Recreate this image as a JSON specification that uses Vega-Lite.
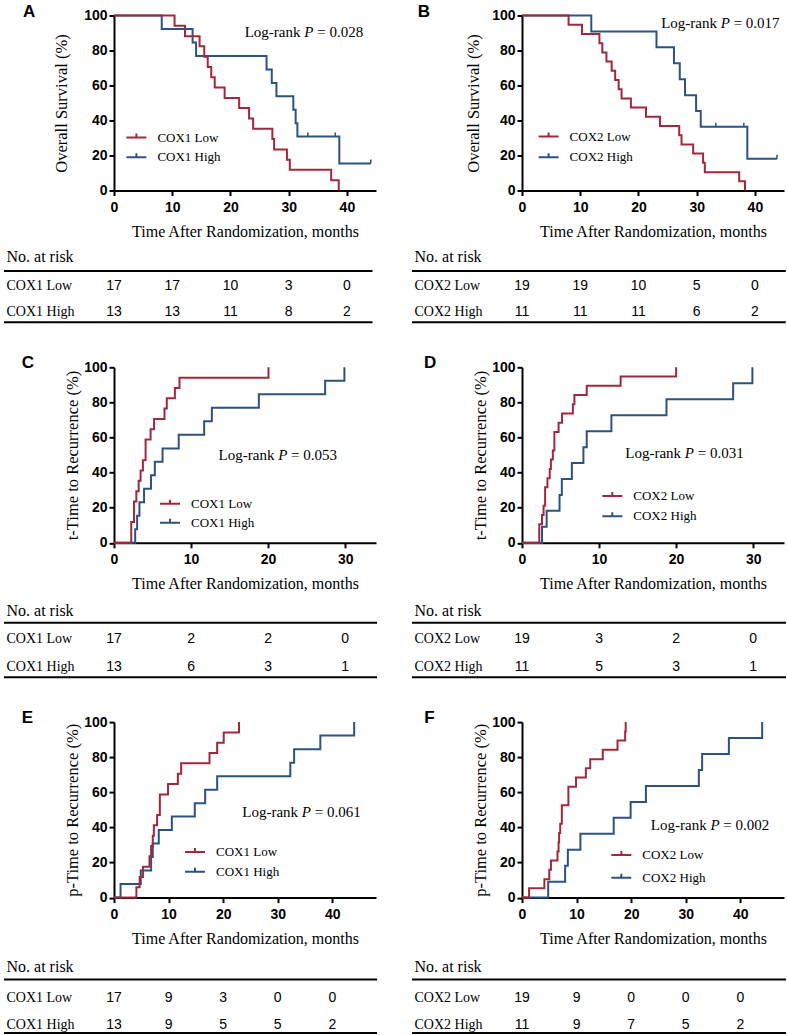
{
"$schema": "https://vega.github.io/schema/vega-lite/v6.json",
"background": "white",
"padding": {"left": 2, "top": 2.5, "right": 0, "bottom": 0},
"columns": 2,
"bounds": "flush",
"align": "each",
"spacing": {"row": 44.4, "column": 146},
"resolve": {"scale": {"x": "independent", "y": "independent", "color": "independent"}, "axis": {"x": "independent", "y": "independent"}, "legend": {"color": "independent"}},
"config": {
  "view": {"stroke": null},
  "axis": {"grid": false, "domainColor": "black", "domainWidth": 2, "tickColor": "black", "tickWidth": 2, "tickSize": 5, "labelFont": "Liberation Sans", "labelFontWeight": "bold", "labelFontSize": 14, "labelColor": "black", "labelFlush": false, "labelOverlap": false, "titleFont": "Liberation Serif", "titleFontWeight": "normal", "titleFontSize": 16, "titleColor": "black"},
  "axisX": {"labelPadding": 5, "titlePadding": 9},
  "axisY": {"labelPadding": 2, "titleFontSize": 16.5},
  "title": {"anchor": "start", "frame": "group", "offset": -12, "baseline": "alphabetic", "fontSize": 17, "font": "Liberation Sans", "fontWeight": "bold", "color": "black"},
  "text": {"font": "Liberation Serif", "fontSize": 15, "baseline": "middle", "color": "black"},
  "legend": {"orient": "none", "symbolType": "M-1,0H1M0,0V-0.4", "symbolSize": 400, "symbolStrokeWidth": 2, "labelFont": "Liberation Serif", "labelFontSize": 13, "labelColor": "black", "labelOffset": 10, "padding": 0}
},
"datasets": {
  "kmA": [
    {"group": "COX1 High", "t": 0, "s": 100}, {"group": "COX1 High", "t": 8.2, "s": 92.3}, {"group": "COX1 High", "t": 13.5, "s": 84.6}, {"group": "COX1 High", "t": 14.1, "s": 76.9}, {"group": "COX1 High", "t": 26.2, "s": 69.2}, {"group": "COX1 High", "t": 27.1, "s": 61.5}, {"group": "COX1 High", "t": 27.9, "s": 53.8}, {"group": "COX1 High", "t": 30.8, "s": 46.2}, {"group": "COX1 High", "t": 31.2, "s": 38.5}, {"group": "COX1 High", "t": 31.5, "s": 30.8}, {"group": "COX1 High", "t": 38.7, "s": 15.4}, {"group": "COX1 High", "t": 44.1, "s": 15.4},
    {"group": "COX1 Low", "t": 0, "s": 100}, {"group": "COX1 Low", "t": 10.4, "s": 94.1}, {"group": "COX1 Low", "t": 12.2, "s": 88.2}, {"group": "COX1 Low", "t": 14.7, "s": 82.4}, {"group": "COX1 Low", "t": 15.5, "s": 76.5}, {"group": "COX1 Low", "t": 16.1, "s": 70.6}, {"group": "COX1 Low", "t": 16.7, "s": 64.7}, {"group": "COX1 Low", "t": 17.3, "s": 58.8}, {"group": "COX1 Low", "t": 19.0, "s": 52.9}, {"group": "COX1 Low", "t": 21.5, "s": 47.1}, {"group": "COX1 Low", "t": 23.2, "s": 41.2}, {"group": "COX1 Low", "t": 23.9, "s": 35.3}, {"group": "COX1 Low", "t": 27.2, "s": 29.4}, {"group": "COX1 Low", "t": 27.5, "s": 23.5}, {"group": "COX1 Low", "t": 29.7, "s": 17.6}, {"group": "COX1 Low", "t": 30.2, "s": 11.8}, {"group": "COX1 Low", "t": 37.3, "s": 5.9}, {"group": "COX1 Low", "t": 38.6, "s": 0}
  ],
  "censA": [{"t": 33.3, "s": 30.8}, {"t": 38.0, "s": 30.8}, {"t": 44.1, "s": 15.4}],
  "kmB": [
    {"group": "COX2 High", "t": 0, "s": 100}, {"group": "COX2 High", "t": 11.9, "s": 90.9}, {"group": "COX2 High", "t": 23.1, "s": 81.8}, {"group": "COX2 High", "t": 26.1, "s": 72.7}, {"group": "COX2 High", "t": 27.1, "s": 63.6}, {"group": "COX2 High", "t": 28.0, "s": 54.5}, {"group": "COX2 High", "t": 29.9, "s": 45.5}, {"group": "COX2 High", "t": 30.7, "s": 36.4}, {"group": "COX2 High", "t": 38.7, "s": 18.2}, {"group": "COX2 High", "t": 43.8, "s": 18.2},
    {"group": "COX2 Low", "t": 0, "s": 100}, {"group": "COX2 Low", "t": 8.0, "s": 94.7}, {"group": "COX2 Low", "t": 10.3, "s": 89.5}, {"group": "COX2 Low", "t": 13.3, "s": 84.2}, {"group": "COX2 Low", "t": 13.8, "s": 78.9}, {"group": "COX2 Low", "t": 14.5, "s": 73.7}, {"group": "COX2 Low", "t": 15.4, "s": 68.4}, {"group": "COX2 Low", "t": 16.0, "s": 63.2}, {"group": "COX2 Low", "t": 16.6, "s": 57.9}, {"group": "COX2 Low", "t": 17.1, "s": 52.6}, {"group": "COX2 Low", "t": 18.7, "s": 47.4}, {"group": "COX2 Low", "t": 21.3, "s": 42.1}, {"group": "COX2 Low", "t": 23.7, "s": 36.8}, {"group": "COX2 Low", "t": 27.0, "s": 31.6}, {"group": "COX2 Low", "t": 27.4, "s": 26.3}, {"group": "COX2 Low", "t": 29.4, "s": 21.1}, {"group": "COX2 Low", "t": 31.1, "s": 15.8}, {"group": "COX2 Low", "t": 31.4, "s": 10.5}, {"group": "COX2 Low", "t": 37.3, "s": 5.3}, {"group": "COX2 Low", "t": 38.3, "s": 0}
  ],
  "censB": [{"t": 33.3, "s": 36.4}, {"t": 38.1, "s": 36.4}, {"t": 43.8, "s": 18.2}],
  "kmC": [
    {"group": "COX1 High", "t": 0, "s": 0}, {"group": "COX1 High", "t": 2.75, "s": 7.7}, {"group": "COX1 High", "t": 3.0, "s": 15.4}, {"group": "COX1 High", "t": 3.3, "s": 23.1}, {"group": "COX1 High", "t": 3.9, "s": 30.8}, {"group": "COX1 High", "t": 4.8, "s": 38.5}, {"group": "COX1 High", "t": 5.3, "s": 46.2}, {"group": "COX1 High", "t": 6.3, "s": 53.8}, {"group": "COX1 High", "t": 8.4, "s": 61.5}, {"group": "COX1 High", "t": 11.7, "s": 69.2}, {"group": "COX1 High", "t": 12.7, "s": 76.9}, {"group": "COX1 High", "t": 18.8, "s": 84.6}, {"group": "COX1 High", "t": 27.4, "s": 92.3}, {"group": "COX1 High", "t": 29.9, "s": 100},
    {"group": "COX1 Low", "t": 0, "s": 0}, {"group": "COX1 Low", "t": 2.24, "s": 11.8}, {"group": "COX1 Low", "t": 2.6, "s": 23.5}, {"group": "COX1 Low", "t": 2.9, "s": 29.4}, {"group": "COX1 Low", "t": 3.2, "s": 35.3}, {"group": "COX1 Low", "t": 3.45, "s": 41.2}, {"group": "COX1 Low", "t": 3.75, "s": 47.1}, {"group": "COX1 Low", "t": 4.1, "s": 58.8}, {"group": "COX1 Low", "t": 4.75, "s": 64.7}, {"group": "COX1 Low", "t": 5.2, "s": 70.6}, {"group": "COX1 Low", "t": 6.55, "s": 76.5}, {"group": "COX1 Low", "t": 6.85, "s": 82.4}, {"group": "COX1 Low", "t": 7.9, "s": 88.2}, {"group": "COX1 Low", "t": 8.5, "s": 94.1}, {"group": "COX1 Low", "t": 20.05, "s": 100}
  ],
  "kmD": [
    {"group": "COX2 High", "t": 0, "s": 0}, {"group": "COX2 High", "t": 2.6, "s": 9.1}, {"group": "COX2 High", "t": 3.2, "s": 18.2}, {"group": "COX2 High", "t": 4.87, "s": 27.3}, {"group": "COX2 High", "t": 5.17, "s": 36.4}, {"group": "COX2 High", "t": 6.47, "s": 45.5}, {"group": "COX2 High", "t": 7.97, "s": 54.5}, {"group": "COX2 High", "t": 8.4, "s": 63.6}, {"group": "COX2 High", "t": 11.6, "s": 72.7}, {"group": "COX2 High", "t": 18.75, "s": 81.8}, {"group": "COX2 High", "t": 27.4, "s": 90.9}, {"group": "COX2 High", "t": 29.9, "s": 100},
    {"group": "COX2 Low", "t": 0, "s": 0}, {"group": "COX2 Low", "t": 2.24, "s": 10.5}, {"group": "COX2 Low", "t": 2.6, "s": 15.8}, {"group": "COX2 Low", "t": 2.8, "s": 21.1}, {"group": "COX2 Low", "t": 3.0, "s": 31.6}, {"group": "COX2 Low", "t": 3.3, "s": 36.8}, {"group": "COX2 Low", "t": 3.6, "s": 42.1}, {"group": "COX2 Low", "t": 3.75, "s": 47.4}, {"group": "COX2 Low", "t": 4.0, "s": 52.6}, {"group": "COX2 Low", "t": 4.2, "s": 63.2}, {"group": "COX2 Low", "t": 4.75, "s": 68.4}, {"group": "COX2 Low", "t": 5.2, "s": 73.7}, {"group": "COX2 Low", "t": 6.6, "s": 78.9}, {"group": "COX2 Low", "t": 6.8, "s": 84.2}, {"group": "COX2 Low", "t": 8.4, "s": 89.5}, {"group": "COX2 Low", "t": 12.8, "s": 94.7}, {"group": "COX2 Low", "t": 20.0, "s": 100}
  ],
  "kmE": [
    {"group": "COX1 High", "t": 0, "s": 0}, {"group": "COX1 High", "t": 1.2, "s": 7.7}, {"group": "COX1 High", "t": 4.9, "s": 15.4}, {"group": "COX1 High", "t": 6.8, "s": 23.1}, {"group": "COX1 High", "t": 7.1, "s": 30.8}, {"group": "COX1 High", "t": 8.2, "s": 38.5}, {"group": "COX1 High", "t": 10.6, "s": 46.2}, {"group": "COX1 High", "t": 14.8, "s": 53.8}, {"group": "COX1 High", "t": 16.7, "s": 61.5}, {"group": "COX1 High", "t": 18.9, "s": 69.2}, {"group": "COX1 High", "t": 32.3, "s": 76.9}, {"group": "COX1 High", "t": 33.0, "s": 84.6}, {"group": "COX1 High", "t": 37.8, "s": 92.3}, {"group": "COX1 High", "t": 44.0, "s": 100},
    {"group": "COX1 Low", "t": 0, "s": 0}, {"group": "COX1 Low", "t": 4.1, "s": 5.9}, {"group": "COX1 Low", "t": 4.7, "s": 11.8}, {"group": "COX1 Low", "t": 5.3, "s": 17.6}, {"group": "COX1 Low", "t": 6.5, "s": 23.5}, {"group": "COX1 Low", "t": 6.8, "s": 29.4}, {"group": "COX1 Low", "t": 7.1, "s": 35.3}, {"group": "COX1 Low", "t": 7.3, "s": 41.2}, {"group": "COX1 Low", "t": 7.9, "s": 47.1}, {"group": "COX1 Low", "t": 8.4, "s": 58.8}, {"group": "COX1 Low", "t": 9.9, "s": 64.7}, {"group": "COX1 Low", "t": 11.7, "s": 70.6}, {"group": "COX1 Low", "t": 12.3, "s": 76.5}, {"group": "COX1 Low", "t": 17.5, "s": 82.4}, {"group": "COX1 Low", "t": 18.9, "s": 88.2}, {"group": "COX1 Low", "t": 20.1, "s": 94.1}, {"group": "COX1 Low", "t": 22.9, "s": 100}
  ],
  "kmF": [
    {"group": "COX2 High", "t": 0, "s": 0}, {"group": "COX2 High", "t": 4.8, "s": 9.1}, {"group": "COX2 High", "t": 7.9, "s": 18.2}, {"group": "COX2 High", "t": 8.4, "s": 27.3}, {"group": "COX2 High", "t": 10.7, "s": 36.4}, {"group": "COX2 High", "t": 16.8, "s": 45.5}, {"group": "COX2 High", "t": 19.9, "s": 54.5}, {"group": "COX2 High", "t": 22.7, "s": 63.6}, {"group": "COX2 High", "t": 32.4, "s": 72.7}, {"group": "COX2 High", "t": 33.0, "s": 81.8}, {"group": "COX2 High", "t": 37.9, "s": 90.9}, {"group": "COX2 High", "t": 44.0, "s": 100},
    {"group": "COX2 Low", "t": 0, "s": 0}, {"group": "COX2 Low", "t": 1.3, "s": 5.3}, {"group": "COX2 Low", "t": 4.1, "s": 10.5}, {"group": "COX2 Low", "t": 5.0, "s": 15.8}, {"group": "COX2 Low", "t": 5.3, "s": 21.1}, {"group": "COX2 Low", "t": 6.5, "s": 26.3}, {"group": "COX2 Low", "t": 6.7, "s": 31.6}, {"group": "COX2 Low", "t": 6.8, "s": 36.8}, {"group": "COX2 Low", "t": 7.0, "s": 42.1}, {"group": "COX2 Low", "t": 7.3, "s": 52.6}, {"group": "COX2 Low", "t": 8.5, "s": 63.2}, {"group": "COX2 Low", "t": 9.9, "s": 68.4}, {"group": "COX2 Low", "t": 11.7, "s": 73.7}, {"group": "COX2 Low", "t": 12.5, "s": 78.9}, {"group": "COX2 Low", "t": 14.8, "s": 84.2}, {"group": "COX2 Low", "t": 17.5, "s": 89.5}, {"group": "COX2 Low", "t": 18.9, "s": 94.7}, {"group": "COX2 Low", "t": 19.0, "s": 100}
  ],
  "riskA": [
    {"row": "COX1 Low", "t": 0, "n": 17}, {"row": "COX1 Low", "t": 10, "n": 17}, {"row": "COX1 Low", "t": 20, "n": 10}, {"row": "COX1 Low", "t": 30, "n": 3}, {"row": "COX1 Low", "t": 40, "n": 0},
    {"row": "COX1 High", "t": 0, "n": 13}, {"row": "COX1 High", "t": 10, "n": 13}, {"row": "COX1 High", "t": 20, "n": 11}, {"row": "COX1 High", "t": 30, "n": 8}, {"row": "COX1 High", "t": 40, "n": 2}
  ],
  "riskB": [
    {"row": "COX2 Low", "t": 0, "n": 19}, {"row": "COX2 Low", "t": 10, "n": 19}, {"row": "COX2 Low", "t": 20, "n": 10}, {"row": "COX2 Low", "t": 30, "n": 5}, {"row": "COX2 Low", "t": 40, "n": 0},
    {"row": "COX2 High", "t": 0, "n": 11}, {"row": "COX2 High", "t": 10, "n": 11}, {"row": "COX2 High", "t": 20, "n": 11}, {"row": "COX2 High", "t": 30, "n": 6}, {"row": "COX2 High", "t": 40, "n": 2}
  ],
  "riskC": [
    {"row": "COX1 Low", "t": 0, "n": 17}, {"row": "COX1 Low", "t": 10, "n": 2}, {"row": "COX1 Low", "t": 20, "n": 2}, {"row": "COX1 Low", "t": 30, "n": 0},
    {"row": "COX1 High", "t": 0, "n": 13}, {"row": "COX1 High", "t": 10, "n": 6}, {"row": "COX1 High", "t": 20, "n": 3}, {"row": "COX1 High", "t": 30, "n": 1}
  ],
  "riskD": [
    {"row": "COX2 Low", "t": 0, "n": 19}, {"row": "COX2 Low", "t": 10, "n": 3}, {"row": "COX2 Low", "t": 20, "n": 2}, {"row": "COX2 Low", "t": 30, "n": 0},
    {"row": "COX2 High", "t": 0, "n": 11}, {"row": "COX2 High", "t": 10, "n": 5}, {"row": "COX2 High", "t": 20, "n": 3}, {"row": "COX2 High", "t": 30, "n": 1}
  ],
  "riskE": [
    {"row": "COX1 Low", "t": 0, "n": 17}, {"row": "COX1 Low", "t": 10, "n": 9}, {"row": "COX1 Low", "t": 20, "n": 3}, {"row": "COX1 Low", "t": 30, "n": 0}, {"row": "COX1 Low", "t": 40, "n": 0},
    {"row": "COX1 High", "t": 0, "n": 13}, {"row": "COX1 High", "t": 10, "n": 9}, {"row": "COX1 High", "t": 20, "n": 5}, {"row": "COX1 High", "t": 30, "n": 5}, {"row": "COX1 High", "t": 40, "n": 2}
  ],
  "riskF": [
    {"row": "COX2 Low", "t": 0, "n": 19}, {"row": "COX2 Low", "t": 10, "n": 9}, {"row": "COX2 Low", "t": 20, "n": 0}, {"row": "COX2 Low", "t": 30, "n": 0}, {"row": "COX2 Low", "t": 40, "n": 0},
    {"row": "COX2 High", "t": 0, "n": 11}, {"row": "COX2 High", "t": 10, "n": 9}, {"row": "COX2 High", "t": 20, "n": 7}, {"row": "COX2 High", "t": 30, "n": 5}, {"row": "COX2 High", "t": 40, "n": 2}
  ]
},
"concat": [
  {
    "width": 262, "height": 175,
    "title": {"text": "A", "dx": -91},
    "layer": [
      {"data": {"name": "kmA"}, "mark": {"type": "line", "interpolate": "step-after", "strokeWidth": 2},
       "encoding": {
         "x": {"field": "t", "type": "quantitative", "scale": {"domain": [0, 45], "nice": false}, "axis": {"title": "Time After Randomization, months", "values": [0, 10, 20, 30, 40], "tickCount": 10}},
         "y": {"field": "s", "type": "quantitative", "scale": {"domain": [0, 100], "nice": false}, "axis": {"title": "Overall Survival (%)", "values": [0, 20, 40, 60, 80, 100], "tickCount": 10, "titlePadding": 14}},
         "color": {"field": "group", "type": "nominal", "scale": {"domain": ["COX1 Low", "COX1 High"], "range": ["#A0283C", "#2C5282"]}, "legend": {"title": null, "legendX": 11.4, "legendY": 111, "rowPadding": 1.7}}
       }},
      {"data": {"name": "censA"}, "mark": {"type": "point", "shape": "M0,0V-1", "size": 64, "filled": false, "strokeWidth": 1.5, "color": "#2C5282", "opacity": 1},
       "encoding": {"x": {"field": "t", "type": "quantitative"}, "y": {"field": "s", "type": "quantitative"}}},
      {"data": {"values": [{"txt": "Log-rank"}]}, "mark": {"type": "text", "align": "left"}, "encoding": {"x": {"datum": 22.45}, "y": {"datum": 90.5}, "text": {"field": "txt"}}},
      {"data": {"values": [{"txt": "P"}]}, "mark": {"type": "text", "align": "left", "dx": 59.6, "fontStyle": "italic"}, "encoding": {"x": {"datum": 22.45}, "y": {"datum": 90.5}, "text": {"field": "txt"}}},
      {"data": {"values": [{"txt": "= 0.028"}]}, "mark": {"type": "text", "align": "left", "dx": 72.5}, "encoding": {"x": {"datum": 22.45}, "y": {"datum": 90.5}, "text": {"field": "txt"}}}
    ]
  },
  {
    "width": 262, "height": 175,
    "title": {"text": "B", "dx": -104.3},
    "layer": [
      {"data": {"name": "kmB"}, "mark": {"type": "line", "interpolate": "step-after", "strokeWidth": 2},
       "encoding": {
         "x": {"field": "t", "type": "quantitative", "scale": {"domain": [0, 45], "nice": false}, "axis": {"title": "Time After Randomization, months", "values": [0, 10, 20, 30, 40], "tickCount": 10}},
         "y": {"field": "s", "type": "quantitative", "scale": {"domain": [0, 100], "nice": false}, "axis": {"title": "Overall Survival (%)", "values": [0, 20, 40, 60, 80, 100], "tickCount": 10, "titlePadding": 10}},
         "color": {"field": "group", "type": "nominal", "scale": {"domain": ["COX2 Low", "COX2 High"], "range": ["#A0283C", "#2C5282"]}, "legend": {"title": null, "legendX": 15.6, "legendY": 110, "rowPadding": 2.7}}
       }},
      {"data": {"name": "censB"}, "mark": {"type": "point", "shape": "M0,0V-1", "size": 64, "filled": false, "strokeWidth": 1.5, "color": "#2C5282", "opacity": 1},
       "encoding": {"x": {"field": "t", "type": "quantitative"}, "y": {"field": "s", "type": "quantitative"}}},
      {"data": {"values": [{"txt": "Log-rank"}]}, "mark": {"type": "text", "align": "left"}, "encoding": {"x": {"datum": 23.9}, "y": {"datum": 95.6}, "text": {"field": "txt"}}},
      {"data": {"values": [{"txt": "P"}]}, "mark": {"type": "text", "align": "left", "dx": 59.6, "fontStyle": "italic"}, "encoding": {"x": {"datum": 23.9}, "y": {"datum": 95.6}, "text": {"field": "txt"}}},
      {"data": {"values": [{"txt": "= 0.017"}]}, "mark": {"type": "text", "align": "left", "dx": 72.5}, "encoding": {"x": {"datum": 23.9}, "y": {"datum": 95.6}, "text": {"field": "txt"}}}
    ]
  },
  {
    "width": 262, "height": 87.3,
    "data": {"name": "riskA"},
    "layer": [
      {"mark": {"type": "text", "font": "Liberation Sans", "fontSize": 14, "dy": 2.4},
       "encoding": {
         "x": {"field": "t", "type": "quantitative", "scale": {"domain": [0, 45], "nice": false}, "axis": null},
         "y": {"field": "row", "type": "nominal", "scale": {"type": "band", "domain": ["No. at risk", "COX1 Low", "COX1 High"], "paddingInner": 0, "paddingOuter": 0.2018, "align": 1, "round": false},
               "axis": {"title": null, "domain": false, "ticks": false, "tickSize": 0, "labelAlign": "left", "labelBaseline": "middle", "labelPadding": 108, "labelFont": "Liberation Serif", "labelFontWeight": "normal", "labelLimit": 300,
                        "labelFontSize": {"condition": {"test": "datum.value === 'No. at risk'", "value": 16}, "value": 14},
                        "labelOffset": {"condition": {"test": "datum.value === 'No. at risk'", "value": -1}, "value": 2.4}}},
         "text": {"field": "n", "type": "quantitative"}
       }},
      {"transform": [{"filter": "datum.t === 0 && datum.row === 'COX1 Low'"}], "mark": {"type": "rule", "strokeWidth": 2, "color": "black"},
       "encoding": {"x": {"datum": -18.9}, "x2": {"datum": 44.4}, "y": {"field": "row", "type": "nominal", "bandPosition": 0}}},
      {"transform": [{"filter": "datum.t === 0 && datum.row === 'COX1 High'"}], "mark": {"type": "rule", "strokeWidth": 2, "color": "black"},
       "encoding": {"x": {"datum": -18.9}, "x2": {"datum": 44.4}, "y": {"field": "row", "type": "nominal", "bandPosition": 1}}}
    ]
  },
  {
    "width": 262, "height": 87.3,
    "data": {"name": "riskB"},
    "layer": [
      {"mark": {"type": "text", "font": "Liberation Sans", "fontSize": 14, "dy": 2.4},
       "encoding": {
         "x": {"field": "t", "type": "quantitative", "scale": {"domain": [0, 45], "nice": false}, "axis": null},
         "y": {"field": "row", "type": "nominal", "scale": {"type": "band", "domain": ["No. at risk", "COX2 Low", "COX2 High"], "paddingInner": 0, "paddingOuter": 0.2018, "align": 1, "round": false},
               "axis": {"title": null, "domain": false, "ticks": false, "tickSize": 0, "labelAlign": "left", "labelBaseline": "middle", "labelPadding": 108, "labelFont": "Liberation Serif", "labelFontWeight": "normal", "labelLimit": 300,
                        "labelFontSize": {"condition": {"test": "datum.value === 'No. at risk'", "value": 16}, "value": 14},
                        "labelOffset": {"condition": {"test": "datum.value === 'No. at risk'", "value": -1}, "value": 2.4}}},
         "text": {"field": "n", "type": "quantitative"}
       }},
      {"transform": [{"filter": "datum.t === 0 && datum.row === 'COX2 Low'"}], "mark": {"type": "rule", "strokeWidth": 2, "color": "black"},
       "encoding": {"x": {"datum": -18.9}, "x2": {"datum": 45.3}, "y": {"field": "row", "type": "nominal", "bandPosition": 0}}},
      {"transform": [{"filter": "datum.t === 0 && datum.row === 'COX2 High'"}], "mark": {"type": "rule", "strokeWidth": 2, "color": "black"},
       "encoding": {"x": {"datum": -18.9}, "x2": {"datum": 45.3}, "y": {"field": "row", "type": "nominal", "bandPosition": 1}}}
    ]
  },
  {
    "width": 262, "height": 175.5,
    "title": {"text": "C", "dx": -92.3},
    "layer": [
      {"data": {"name": "kmC"}, "mark": {"type": "line", "interpolate": "step-after", "strokeWidth": 2},
       "encoding": {
         "x": {"field": "t", "type": "quantitative", "scale": {"domain": [0, 34], "nice": false}, "axis": {"title": "Time After Randomization, months", "values": [0, 10, 20, 30], "tickCount": 10}},
         "y": {"field": "s", "type": "quantitative", "scale": {"domain": [0, 100], "nice": false}, "axis": {"title": "t-Time to Recurrence (%)", "values": [0, 20, 40, 60, 80, 100], "tickCount": 10, "titlePadding": 3}},
         "color": {"field": "group", "type": "nominal", "scale": {"domain": ["COX1 Low", "COX1 High"], "range": ["#A0283C", "#2C5282"]}, "legend": {"title": null, "legendX": 45, "legendY": 125.5, "rowPadding": 1}}
       }},
      {"data": {"values": [{"txt": "Log-rank"}]}, "mark": {"type": "text", "align": "left"}, "encoding": {"x": {"datum": 13.57}, "y": {"datum": 49.9}, "text": {"field": "txt"}}},
      {"data": {"values": [{"txt": "P"}]}, "mark": {"type": "text", "align": "left", "dx": 59.6, "fontStyle": "italic"}, "encoding": {"x": {"datum": 13.57}, "y": {"datum": 49.9}, "text": {"field": "txt"}}},
      {"data": {"values": [{"txt": "= 0.053"}]}, "mark": {"type": "text", "align": "left", "dx": 72.5}, "encoding": {"x": {"datum": 13.57}, "y": {"datum": 49.9}, "text": {"field": "txt"}}}
    ]
  },
  {
    "width": 262, "height": 175.5,
    "title": {"text": "D", "dx": -98},
    "layer": [
      {"data": {"name": "kmD"}, "mark": {"type": "line", "interpolate": "step-after", "strokeWidth": 2},
       "encoding": {
         "x": {"field": "t", "type": "quantitative", "scale": {"domain": [0, 34], "nice": false}, "axis": {"title": "Time After Randomization, months", "values": [0, 10, 20, 30], "tickCount": 10}},
         "y": {"field": "s", "type": "quantitative", "scale": {"domain": [0, 100], "nice": false}, "axis": {"title": "t-Time to Recurrence (%)", "values": [0, 20, 40, 60, 80, 100], "tickCount": 10, "titlePadding": 3}},
         "color": {"field": "group", "type": "nominal", "scale": {"domain": ["COX2 Low", "COX2 High"], "range": ["#A0283C", "#2C5282"]}, "legend": {"title": null, "legendX": 79.3, "legendY": 117.6, "rowPadding": 2.4}}
       }},
      {"data": {"values": [{"txt": "Log-rank"}]}, "mark": {"type": "text", "align": "left"}, "encoding": {"x": {"datum": 13.4}, "y": {"datum": 50.9}, "text": {"field": "txt"}}},
      {"data": {"values": [{"txt": "P"}]}, "mark": {"type": "text", "align": "left", "dx": 59.6, "fontStyle": "italic"}, "encoding": {"x": {"datum": 13.4}, "y": {"datum": 50.9}, "text": {"field": "txt"}}},
      {"data": {"values": [{"txt": "= 0.031"}]}, "mark": {"type": "text", "align": "left", "dx": 72.5}, "encoding": {"x": {"datum": 13.4}, "y": {"datum": 50.9}, "text": {"field": "txt"}}}
    ]
  },
  {
    "width": 262, "height": 89.6,
    "data": {"name": "riskC"},
    "layer": [
      {"mark": {"type": "text", "font": "Liberation Sans", "fontSize": 14, "dy": 3.1},
       "encoding": {
         "x": {"field": "t", "type": "quantitative", "scale": {"domain": [0, 34], "nice": false}, "axis": null},
         "y": {"field": "row", "type": "nominal", "scale": {"type": "band", "domain": ["No. at risk", "COX1 Low", "COX1 High"], "paddingInner": 0, "paddingOuter": 0.141, "align": 1, "round": false},
               "axis": {"title": null, "domain": false, "ticks": false, "tickSize": 0, "labelAlign": "left", "labelBaseline": "middle", "labelPadding": 108, "labelFont": "Liberation Serif", "labelFontWeight": "normal", "labelLimit": 300,
                        "labelFontSize": {"condition": {"test": "datum.value === 'No. at risk'", "value": 16}, "value": 14},
                        "labelOffset": {"condition": {"test": "datum.value === 'No. at risk'", "value": 2}, "value": 3.1}}},
         "text": {"field": "n", "type": "quantitative"}
       }},
      {"transform": [{"filter": "datum.t === 0 && datum.row === 'COX1 Low'"}], "mark": {"type": "rule", "strokeWidth": 2, "color": "black"},
       "encoding": {"x": {"datum": -14.27}, "x2": {"datum": 34.13}, "y": {"field": "row", "type": "nominal", "bandPosition": 0}}},
      {"transform": [{"filter": "datum.t === 0 && datum.row === 'COX1 High'"}], "mark": {"type": "rule", "strokeWidth": 2, "color": "black"},
       "encoding": {"x": {"datum": -14.27}, "x2": {"datum": 34.13}, "y": {"field": "row", "type": "nominal", "bandPosition": 1}}}
    ]
  },
  {
    "width": 262, "height": 89.6,
    "data": {"name": "riskD"},
    "layer": [
      {"mark": {"type": "text", "font": "Liberation Sans", "fontSize": 14, "dy": 3.1},
       "encoding": {
         "x": {"field": "t", "type": "quantitative", "scale": {"domain": [0, 34], "nice": false}, "axis": null},
         "y": {"field": "row", "type": "nominal", "scale": {"type": "band", "domain": ["No. at risk", "COX2 Low", "COX2 High"], "paddingInner": 0, "paddingOuter": 0.141, "align": 1, "round": false},
               "axis": {"title": null, "domain": false, "ticks": false, "tickSize": 0, "labelAlign": "left", "labelBaseline": "middle", "labelPadding": 108, "labelFont": "Liberation Serif", "labelFontWeight": "normal", "labelLimit": 300,
                        "labelFontSize": {"condition": {"test": "datum.value === 'No. at risk'", "value": 16}, "value": 14},
                        "labelOffset": {"condition": {"test": "datum.value === 'No. at risk'", "value": 2}, "value": 3.1}}},
         "text": {"field": "n", "type": "quantitative"}
       }},
      {"transform": [{"filter": "datum.t === 0 && datum.row === 'COX2 Low'"}], "mark": {"type": "rule", "strokeWidth": 2, "color": "black"},
       "encoding": {"x": {"datum": -14.27}, "x2": {"datum": 34.26}, "y": {"field": "row", "type": "nominal", "bandPosition": 0}}},
      {"transform": [{"filter": "datum.t === 0 && datum.row === 'COX2 High'"}], "mark": {"type": "rule", "strokeWidth": 2, "color": "black"},
       "encoding": {"x": {"datum": -14.27}, "x2": {"datum": 34.26}, "y": {"field": "row", "type": "nominal", "bandPosition": 1}}}
    ]
  },
  {
    "width": 262, "height": 175.5,
    "title": {"text": "E", "dx": -92.3},
    "layer": [
      {"data": {"name": "kmE"}, "mark": {"type": "line", "interpolate": "step-after", "strokeWidth": 2},
       "encoding": {
         "x": {"field": "t", "type": "quantitative", "scale": {"domain": [0, 48], "nice": false}, "axis": {"title": "Time After Randomization, months", "values": [0, 10, 20, 30, 40], "tickCount": 10}},
         "y": {"field": "s", "type": "quantitative", "scale": {"domain": [0, 100], "nice": false}, "axis": {"title": "p-Time to Recurrence (%)", "values": [0, 20, 40, 60, 80, 100], "tickCount": 10, "titlePadding": 3}},
         "color": {"field": "group", "type": "nominal", "scale": {"domain": ["COX1 Low", "COX1 High"], "range": ["#A0283C", "#2C5282"]}, "legend": {"title": null, "legendX": 70, "legendY": 119, "rowPadding": 1.6}}
       }},
      {"data": {"values": [{"txt": "Log-rank"}]}, "mark": {"type": "text", "align": "left"}, "encoding": {"x": {"datum": 23.5}, "y": {"datum": 48.7}, "text": {"field": "txt"}}},
      {"data": {"values": [{"txt": "P"}]}, "mark": {"type": "text", "align": "left", "dx": 59.6, "fontStyle": "italic"}, "encoding": {"x": {"datum": 23.5}, "y": {"datum": 48.7}, "text": {"field": "txt"}}},
      {"data": {"values": [{"txt": "= 0.061"}]}, "mark": {"type": "text", "align": "left", "dx": 72.5}, "encoding": {"x": {"datum": 23.5}, "y": {"datum": 48.7}, "text": {"field": "txt"}}}
    ]
  },
  {
    "width": 262, "height": 175.5,
    "title": {"text": "F", "dx": -97.7},
    "layer": [
      {"data": {"name": "kmF"}, "mark": {"type": "line", "interpolate": "step-after", "strokeWidth": 2},
       "encoding": {
         "x": {"field": "t", "type": "quantitative", "scale": {"domain": [0, 48], "nice": false}, "axis": {"title": "Time After Randomization, months", "values": [0, 10, 20, 30, 40], "tickCount": 10}},
         "y": {"field": "s", "type": "quantitative", "scale": {"domain": [0, 100], "nice": false}, "axis": {"title": "p-Time to Recurrence (%)", "values": [0, 20, 40, 60, 80, 100], "tickCount": 10, "titlePadding": 3}},
         "color": {"field": "group", "type": "nominal", "scale": {"domain": ["COX2 Low", "COX2 High"], "range": ["#A0283C", "#2C5282"]}, "legend": {"title": null, "legendX": 88.3, "legendY": 122, "rowPadding": 4.7}}
       }},
      {"data": {"values": [{"txt": "Log-rank"}]}, "mark": {"type": "text", "align": "left"}, "encoding": {"x": {"datum": 23.6}, "y": {"datum": 41.1}, "text": {"field": "txt"}}},
      {"data": {"values": [{"txt": "P"}]}, "mark": {"type": "text", "align": "left", "dx": 59.6, "fontStyle": "italic"}, "encoding": {"x": {"datum": 23.6}, "y": {"datum": 41.1}, "text": {"field": "txt"}}},
      {"data": {"values": [{"txt": "= 0.002"}]}, "mark": {"type": "text", "align": "left", "dx": 72.5}, "encoding": {"x": {"datum": 23.6}, "y": {"datum": 41.1}, "text": {"field": "txt"}}}
    ]
  },
  {
    "width": 262, "height": 90.4,
    "data": {"name": "riskE"},
    "layer": [
      {"mark": {"type": "text", "font": "Liberation Sans", "fontSize": 14, "dy": 5},
       "encoding": {
         "x": {"field": "t", "type": "quantitative", "scale": {"domain": [0, 48], "nice": false}, "axis": null},
         "y": {"field": "row", "type": "nominal", "scale": {"type": "band", "domain": ["No. at risk", "COX1 Low", "COX1 High"], "paddingInner": 0, "paddingOuter": 0.196, "align": 1, "round": false},
               "axis": {"title": null, "domain": false, "ticks": false, "tickSize": 0, "labelAlign": "left", "labelBaseline": "middle", "labelPadding": 108, "labelFont": "Liberation Serif", "labelFontWeight": "normal", "labelLimit": 300,
                        "labelFontSize": {"condition": {"test": "datum.value === 'No. at risk'", "value": 16}, "value": 14},
                        "labelOffset": {"condition": {"test": "datum.value === 'No. at risk'", "value": 1}, "value": 5}}},
         "text": {"field": "n", "type": "quantitative"}
       }},
      {"transform": [{"filter": "datum.t === 0 && datum.row === 'COX1 Low'"}], "mark": {"type": "rule", "strokeWidth": 2, "color": "black"},
       "encoding": {"x": {"datum": -20.15}, "x2": {"datum": 48.19}, "y": {"field": "row", "type": "nominal", "bandPosition": 0}}},
      {"transform": [{"filter": "datum.t === 0 && datum.row === 'COX1 High'"}], "mark": {"type": "rule", "strokeWidth": 2, "color": "black"},
       "encoding": {"x": {"datum": -20.15}, "x2": {"datum": 48.19}, "y": {"field": "row", "type": "nominal", "bandPosition": 1}}}
    ]
  },
  {
    "width": 262, "height": 90.4,
    "data": {"name": "riskF"},
    "layer": [
      {"mark": {"type": "text", "font": "Liberation Sans", "fontSize": 14, "dy": 5},
       "encoding": {
         "x": {"field": "t", "type": "quantitative", "scale": {"domain": [0, 48], "nice": false}, "axis": null},
         "y": {"field": "row", "type": "nominal", "scale": {"type": "band", "domain": ["No. at risk", "COX2 Low", "COX2 High"], "paddingInner": 0, "paddingOuter": 0.196, "align": 1, "round": false},
               "axis": {"title": null, "domain": false, "ticks": false, "tickSize": 0, "labelAlign": "left", "labelBaseline": "middle", "labelPadding": 108, "labelFont": "Liberation Serif", "labelFontWeight": "normal", "labelLimit": 300,
                        "labelFontSize": {"condition": {"test": "datum.value === 'No. at risk'", "value": 16}, "value": 14},
                        "labelOffset": {"condition": {"test": "datum.value === 'No. at risk'", "value": 1}, "value": 5}}},
         "text": {"field": "n", "type": "quantitative"}
       }},
      {"transform": [{"filter": "datum.t === 0 && datum.row === 'COX2 Low'"}], "mark": {"type": "rule", "strokeWidth": 2, "color": "black"},
       "encoding": {"x": {"datum": -20.15}, "x2": {"datum": 48.37}, "y": {"field": "row", "type": "nominal", "bandPosition": 0}}},
      {"transform": [{"filter": "datum.t === 0 && datum.row === 'COX2 High'"}], "mark": {"type": "rule", "strokeWidth": 2, "color": "black"},
       "encoding": {"x": {"datum": -20.15}, "x2": {"datum": 48.37}, "y": {"field": "row", "type": "nominal", "bandPosition": 1}}}
    ]
  }
]
}
